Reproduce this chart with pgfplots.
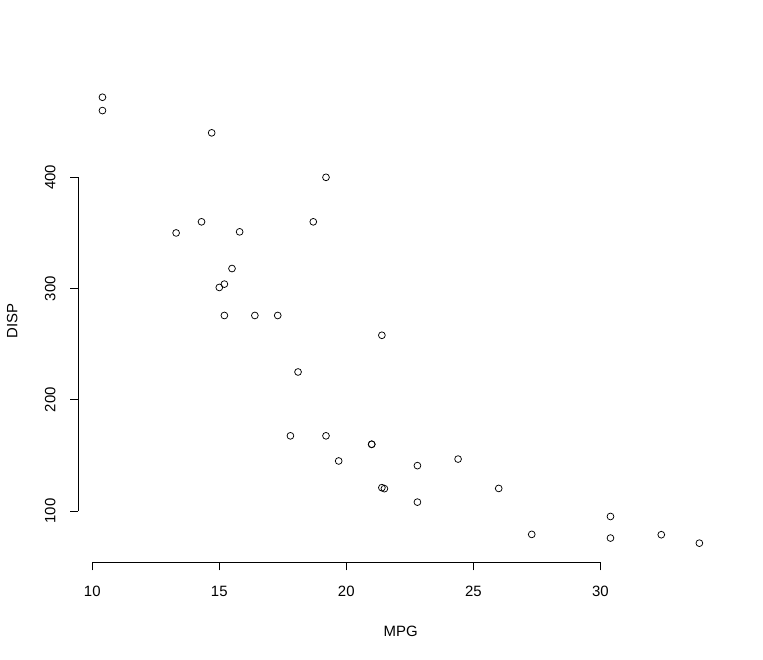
\documentclass[border=0pt]{standalone}
\usepackage{pgfplots}
\pgfplotsset{compat=1.18}
\usepackage{fontspec}
\setmainfont{Liberation Sans}
\begin{document}
\begin{tikzpicture}
\begin{axis}[
  scale only axis,
  width=644.7bp, height=482.3bp,
  xmin=9.449, xmax=34.83,
  ymin=53.9, ymax=487.5,
  clip=false,
  axis line style={draw=none},
  xtick={10,15,20,25,30},
  ytick={100,200,300,400},
  xtick pos=bottom, ytick pos=left,
  tick align=outside,
  major tick length=8bp,
  tick style={black, line width=0.75bp},
  /pgf/number format/assume math mode=true,
  ticklabel style={font=\fontsize{15}{18}\selectfont, text=black},
  xticklabel style={anchor=center, yshift=-21bp},
  yticklabel style={anchor=center, xshift=-20bp, rotate=90},
  xlabel={MPG}, ylabel={DISP},
  every axis x label/.style={at={(rel axis cs:0.5,0)}, yshift=-68.7bp, anchor=center, font=\fontsize{15}{18}\selectfont},
  every axis y label/.style={at={(rel axis cs:0,0.5)}, xshift=-66bp, rotate=90, anchor=center, font=\fontsize{15}{18}\selectfont},
]
\addplot[only marks, mark=o, mark size=3.4bp, mark options={black, line width=0.75bp}] coordinates {
(21.0,160) (21.0,160) (22.8,108) (21.4,258) (18.7,360) (18.1,225) (14.3,360)
(24.4,146.7) (22.8,140.8) (19.2,167.6) (17.8,167.6) (16.4,275.8) (17.3,275.8)
(15.2,275.8) (10.4,472) (10.4,460) (14.7,440) (32.4,78.7) (30.4,75.7) (33.9,71.1)
(21.5,120.1) (15.5,318) (15.2,304) (13.3,350) (19.2,400) (27.3,79) (26.0,120.3)
(30.4,95.1) (15.8,351) (19.7,145) (15.0,301) (21.4,121)
};
\draw[black, line width=0.75bp] (axis cs:10,53.9) -- (axis cs:30,53.9);
\draw[black, line width=0.75bp] (axis cs:9.449,100) -- (axis cs:9.449,400);
\coordinate (O) at (rel axis cs:0,0);
\end{axis}
\path (O) ++(-78.3bp,-97.7bp) rectangle ++(763bp,660bp);
\end{tikzpicture}
\end{document}
